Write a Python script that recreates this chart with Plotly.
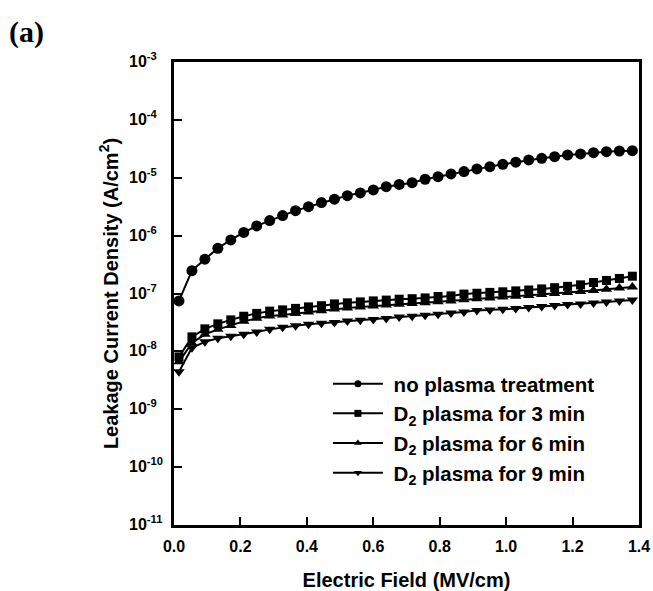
import plotly.graph_objects as go

# Electric field (MV/cm) at each measurement step
field = [0.015, 0.054, 0.093, 0.132, 0.171, 0.210, 0.249, 0.288, 0.327, 0.366,
         0.405, 0.444, 0.483, 0.522, 0.561, 0.600, 0.639, 0.678, 0.717, 0.756,
         0.795, 0.834, 0.873, 0.912, 0.951, 0.990, 1.029, 1.068, 1.107, 1.146,
         1.185, 1.224, 1.263, 1.302, 1.341, 1.380]

# Leakage current density (A/cm^2)
j_no_plasma = [7.45e-8, 2.48e-7, 3.91e-7, 6.05e-7, 8.43e-7, 1.135e-6, 1.47e-6, 1.82e-6,
               2.22e-6, 2.70e-6, 3.17e-6, 3.72e-6, 4.26e-6, 4.91e-6, 5.47e-6, 6.15e-6,
               7.02e-6, 7.66e-6, 8.22e-6, 9.42e-6, 1.045e-5, 1.164e-5, 1.276e-5, 1.419e-5,
               1.556e-5, 1.71e-5, 1.854e-5, 2.03e-5, 2.17e-5, 2.31e-5, 2.48e-5, 2.58e-5,
               2.71e-5, 2.82e-5, 2.90e-5, 2.94e-5]
j_d2_3min = [8.03e-9, 1.78e-8, 2.45e-8, 2.99e-8, 3.50e-8, 4.05e-8, 4.53e-8, 4.96e-8,
             5.21e-8, 5.53e-8, 5.87e-8, 6.15e-8, 6.61e-8, 6.90e-8, 7.16e-8, 7.45e-8,
             7.69e-8, 7.97e-8, 8.13e-8, 8.39e-8, 8.87e-8, 9.09e-8, 9.77e-8, 1.01e-7,
             1.045e-7, 1.07e-7, 1.11e-7, 1.15e-7, 1.20e-7, 1.26e-7, 1.33e-7, 1.41e-7,
             1.55e-7, 1.68e-7, 1.82e-7, 1.99e-7]
j_d2_6min = [6.59e-9, 1.40e-8, 1.97e-8, 2.40e-8, 2.81e-8, 3.30e-8, 3.72e-8, 4.07e-8,
             4.27e-8, 4.53e-8, 4.81e-8, 5.04e-8, 5.38e-8, 5.64e-8, 5.87e-8, 6.11e-8,
             6.31e-8, 6.53e-8, 6.72e-8, 6.93e-8, 7.22e-8, 7.45e-8, 7.81e-8, 8.13e-8,
             8.39e-8, 8.66e-8, 8.95e-8, 9.27e-8, 9.61e-8, 1.00e-7, 1.04e-7, 1.08e-7,
             1.13e-7, 1.18e-7, 1.24e-7, 1.29e-7]
j_d2_9min = [4.43e-9, 1.15e-8, 1.46e-8, 1.68e-8, 1.83e-8, 1.97e-8, 2.17e-8, 2.40e-8,
             2.60e-8, 2.78e-8, 2.93e-8, 3.05e-8, 3.17e-8, 3.34e-8, 3.46e-8, 3.56e-8,
             3.70e-8, 3.91e-8, 4.05e-8, 4.19e-8, 4.36e-8, 4.62e-8, 4.81e-8, 5.11e-8,
             5.17e-8, 5.33e-8, 5.48e-8, 5.75e-8, 5.98e-8, 6.22e-8, 6.43e-8, 6.61e-8,
             6.88e-8, 7.16e-8, 7.45e-8, 7.69e-8]

series_names = ["no plasma treatment", "D<sub>2</sub> plasma for 3 min",
                "D<sub>2</sub> plasma for 6 min", "D<sub>2</sub> plasma for 9 min"]
series_values = [j_no_plasma, j_d2_3min, j_d2_6min, j_d2_9min]
symbols = ["circle", "square", "triangle-up", "triangle-down"]
sizes = [11, 9, 10, 10]

x_ticks = [0.0, 0.2, 0.4, 0.6, 0.8, 1.0, 1.2, 1.4]
y_exponents = [-3, -4, -5, -6, -7, -8, -9, -10, -11]

FONT = "Liberation Sans, Arial, sans-serif"

fig = go.Figure()
for name, vals, sym, sz in zip(series_names, series_values, symbols, sizes):
    fig.add_trace(go.Scatter(
        x=field, y=vals, mode="lines+markers", name=name, legendgroup=name,
        showlegend=False,
        line=dict(color="black", width=2),
        marker=dict(symbol=sym, size=sz, color="black"),
    ))
    # small-marker legend entry
    fig.add_trace(go.Scatter(
        x=[None], y=[None], mode="lines+markers",
        name="&nbsp;" + name, legendgroup=name,
        line=dict(color="black", width=2),
        marker=dict(symbol=sym, size=7, color="black"),
    ))

fig.update_layout(
    width=653, height=591,
    margin=dict(l=174, r=14, t=62, b=66),
    paper_bgcolor="white", plot_bgcolor="white",
    font=dict(family=FONT, color="black"),
    showlegend=True,
    legend=dict(
        x=0.331, y=0.348, xanchor="left", yanchor="top",
        bgcolor="rgba(0,0,0,0)", borderwidth=0,
        font=dict(family=FONT, size=20.5, weight="bold", color="black"),
        itemwidth=50, tracegroupgap=0,
    ),
)

fig.update_xaxes(
    range=[0, 1.4], tickvals=x_ticks, ticktext=[f"{v:.1f}" for v in x_ticks],
    ticks="inside", ticklen=8, tickwidth=2, tickcolor="black",
    showline=True, linewidth=2.5, linecolor="black", mirror=True,
    showgrid=False, zeroline=False, automargin=False,
    tickfont=dict(family=FONT, size=16, weight="bold"),
    ticklabelstandoff=5,
    title=dict(text="Electric Field (MV/cm)",
               font=dict(family=FONT, size=20, weight="bold"), standoff=21),
)

# y ticks drawn by the axis; their labels are left-aligned text in a column
fig.update_yaxes(
    type="log", range=[-11, -3],
    tickvals=[10.0 ** e for e in y_exponents],
    showticklabels=False,
    ticks="inside", ticklen=8, tickwidth=2, tickcolor="black",
    showline=True, linewidth=2.5, linecolor="black", mirror=True,
    showgrid=False, zeroline=False, automargin=False,
    title=dict(text="Leakage Current Density (A/cm<sup>2</sup>)",
               font=dict(family=FONT, size=20, weight="bold"), standoff=48),
)

for e in y_exponents:
    fig.add_annotation(
        text=f"10<sup>{e}</sup>", xref="paper", yref="y", x=-0.101, y=e,
        xanchor="left", yanchor="middle", showarrow=False, yshift=2,
        font=dict(family=FONT, size=16, weight="bold", color="black"),
    )

fig.add_annotation(
    text="<b>(a)</b>", xref="paper", yref="paper", x=-0.36, y=1.065,
    xanchor="left", yanchor="middle", showarrow=False,
    font=dict(family="Liberation Serif, Times New Roman, serif", size=30, color="black"),
)

fig.write_html("out.html")
